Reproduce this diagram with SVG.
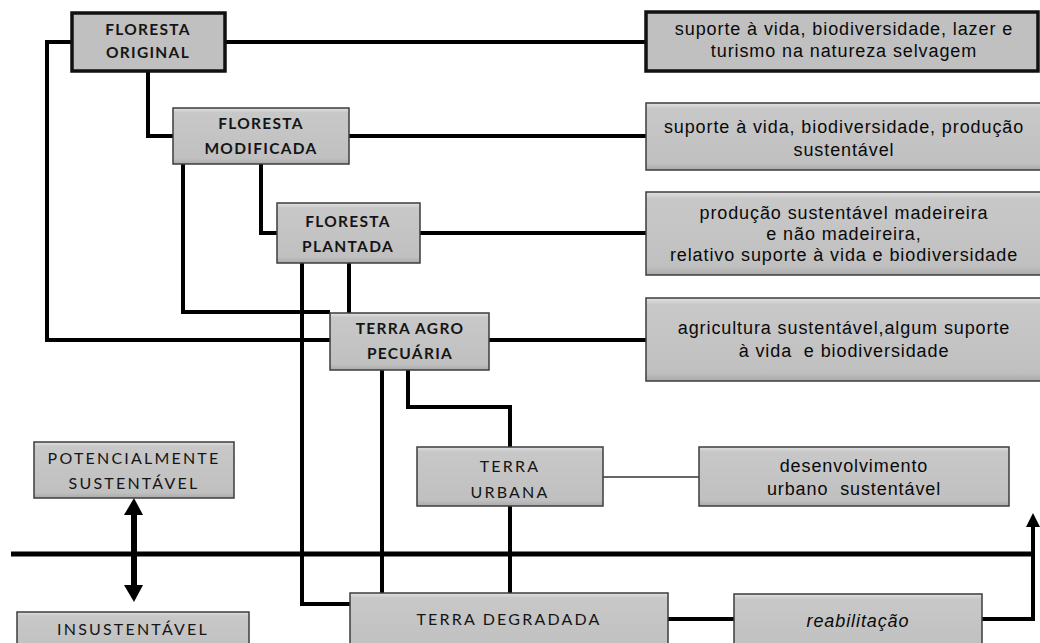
<svg xmlns="http://www.w3.org/2000/svg" width="1040" height="643" viewBox="0 0 1040 643">
<defs>
<linearGradient id="bevel" x1="0" y1="0" x2="0" y2="1">
<stop offset="0" stop-color="#e2e2e2"/>
<stop offset="0.08" stop-color="#c8c8c8"/>
<stop offset="0.9" stop-color="#c0c0c0"/>
<stop offset="1" stop-color="#aaaaaa"/>
</linearGradient>
<style>
.box{fill:url(#bevel);stroke:#3c3c3c;stroke-width:1.5}
.boxk{fill:#c0c0c0;stroke:#111;stroke-width:3.5}
.lbl{font-family:Lato,"Open Sans",sans-serif;font-size:15.5px;font-weight:bold;fill:#151515;text-anchor:middle;letter-spacing:1.3px}
.lbr{font-family:Lato,"Open Sans",sans-serif;font-size:16px;fill:#151515;text-anchor:middle;letter-spacing:2.2px}
.dsc{font-family:"Liberation Sans",Arial,sans-serif;font-size:18px;fill:#0a0a0a;text-anchor:middle;letter-spacing:0.9px}
.ln{fill:none;stroke:#000;stroke-width:4;stroke-linejoin:miter}
.thin{fill:none;stroke:#333;stroke-width:1.5}
.main{fill:none;stroke:#000;stroke-width:5}
</style>
</defs>
<rect width="1040" height="643" fill="#fff"/>
<g id="connectors">
<path class="ln" d="M72,42 H47 V340 H330"/>
<path class="ln" d="M225,42 H646"/>
<path class="ln" d="M148,71 V136 H173"/>
<path class="ln" d="M349,136 H646"/>
<path class="ln" d="M183,164 V312 H330"/>
<path class="ln" d="M261,164 V233 H277"/>
<path class="ln" d="M420,233 H646"/>
<path class="ln" d="M302,263 V604 H350"/>
<path class="ln" d="M349,263 V313"/>
<path class="ln" d="M489,340 H646"/>
<path class="ln" d="M382,370 V593"/>
<path class="ln" d="M408,370 V407 H510 V447"/>
<path class="ln" d="M510,506 V593"/>
<path class="thin" d="M603,477 H699"/>
<path class="ln" d="M668,619 H734"/>
<path class="ln" d="M982,619 H1033 V524"/>
<polygon points="1033,513 1040,527 1026,527" fill="#000"/>
<path class="main" d="M11,554 H1033"/>
<path fill="none" stroke="#000" stroke-width="6" d="M134,512 V588"/>
<polygon points="134,498 143,515 124,515" fill="#000"/>
<polygon points="134,602 143,585 124,585" fill="#000"/>
</g>
<g id="floresta-original">
<rect class="boxk" x="72" y="13" width="153" height="58"/>
<text class="lbl" x="148" y="35">FLORESTA</text>
<text class="lbl" x="148" y="58">ORIGINAL</text>
</g>
<g id="floresta-modificada">
<rect class="box" x="173" y="108" width="176" height="56"/>
<text class="lbl" x="261" y="129">FLORESTA</text>
<text class="lbl" x="261" y="154">MODIFICADA</text>
</g>
<g id="floresta-plantada">
<rect class="box" x="277" y="203" width="143" height="60"/>
<text class="lbl" x="348" y="227">FLORESTA</text>
<text class="lbl" x="348" y="252">PLANTADA</text>
</g>
<g id="terra-agro">
<rect class="box" x="330" y="313" width="159" height="57"/>
<text class="lbl" x="410" y="334">TERRA AGRO</text>
<text class="lbl" x="410" y="359">PECUÁRIA</text>
</g>
<g id="terra-urbana">
<rect class="box" x="417" y="447" width="186" height="59"/>
<text class="lbr" x="510" y="472">TERRA</text>
<text class="lbr" x="510" y="498">URBANA</text>
</g>
<g id="terra-degradada">
<rect class="box" x="350" y="593" width="318" height="62"/>
<text class="lbr" x="509" y="625">TERRA DEGRADADA</text>
</g>
<g id="potencialmente">
<rect class="box" x="34" y="442" width="200" height="56"/>
<text class="lbr" x="134" y="464">POTENCIALMENTE</text>
<text class="lbr" x="134" y="489">SUSTENTÁVEL</text>
</g>
<g id="insustentavel">
<rect class="box" x="17" y="612" width="232" height="45"/>
<text class="lbr" x="133" y="635">INSUSTENTÁVEL</text>
</g>
<g id="desc-original">
<rect class="boxk" x="646" y="12" width="392" height="59"/>
<text class="dsc" x="844" y="35">suporte à vida, biodiversidade, lazer e</text>
<text class="dsc" x="844" y="57">turismo na natureza selvagem</text>
</g>
<g id="desc-modificada">
<rect class="box" x="646" y="103" width="396" height="67"/>
<text class="dsc" x="844" y="133">suporte à vida, biodiversidade, produção</text>
<text class="dsc" x="844" y="156">sustentável</text>
</g>
<g id="desc-plantada">
<rect class="box" x="646" y="192" width="396" height="83"/>
<text class="dsc" x="844" y="219">produção sustentável madeireira</text>
<text class="dsc" x="844" y="240">e não madeireira,</text>
<text class="dsc" x="844" y="261">relativo suporte à vida e biodiversidade</text>
</g>
<g id="desc-agro">
<rect class="box" x="646" y="298" width="396" height="83"/>
<text class="dsc" x="844" y="334">agricultura sustentável,algum suporte</text>
<text class="dsc" x="844" y="357" xml:space="preserve">à vida  e biodiversidade</text>
</g>
<g id="desc-urbana">
<rect class="box" x="699" y="447" width="310" height="59"/>
<text class="dsc" x="854" y="472">desenvolvimento</text>
<text class="dsc" x="854" y="495" xml:space="preserve">urbano  sustentável</text>
</g>
<g id="reabilitacao">
<rect class="box" x="734" y="594" width="248" height="62"/>
<text class="dsc" x="858" y="627" font-style="italic">reabilitação</text>
</g>
</svg>
